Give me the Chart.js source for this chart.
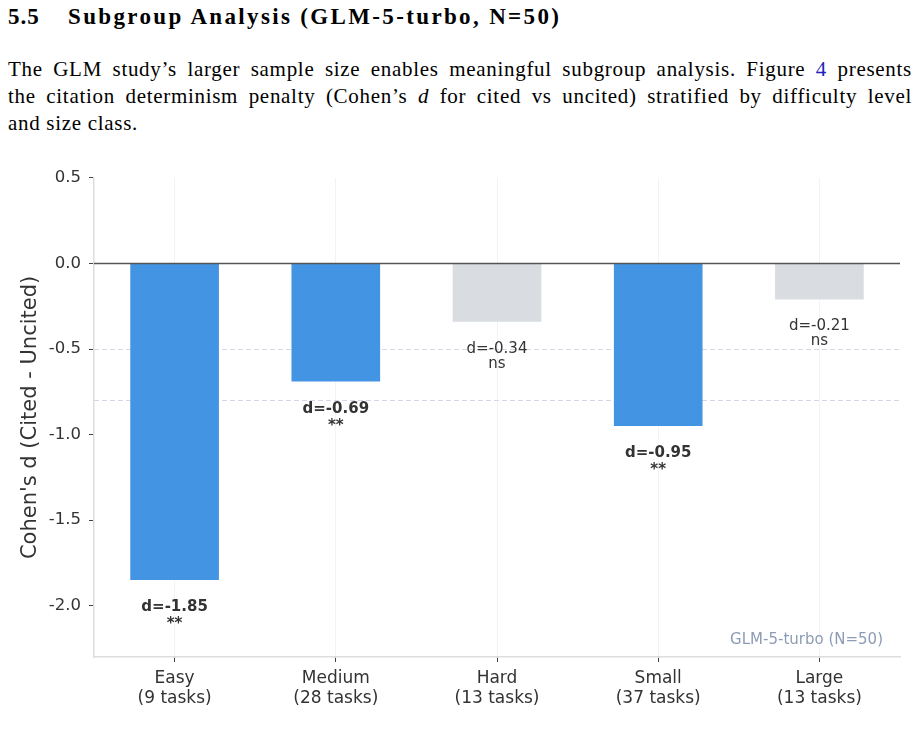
<!DOCTYPE html>
<html><head><meta charset="utf-8">
<script src="https://cdn.jsdelivr.net/npm/chart.js@4.4.1/dist/chart.umd.min.js"></script>
<style>
html,body{margin:0;padding:0;background:#fff;width:918px;height:742px;overflow:hidden;}
#doc{position:absolute;left:8px;top:0;width:904px;font-family:"Liberation Serif","Times New Roman",serif;color:#000;}
#doc h2{position:absolute;top:4px;left:0;margin:0;font-size:23px;font-weight:bold;white-space:nowrap;letter-spacing:2.35px;}
#doc h2 .num{display:inline-block;width:60px;letter-spacing:1px;}
#doc .ln{position:absolute;left:0;width:904px;font-size:21px;line-height:27px;height:27px;letter-spacing:0.7px;text-align:justify;text-align-last:justify;}
#doc .ln.last{text-align-last:left;}
#doc a{color:#2222bb;text-decoration:none;}
#wrap{position:absolute;left:0;top:160px;width:918px;height:570px;}
</style>
</head><body>
<div id="doc">
  <h2><span class="num">5.5</span>Subgroup Analysis (GLM-5-turbo, N=50)</h2>
  <div class="ln" style="top:56px">The GLM study’s larger sample size enables meaningful subgroup analysis. Figure <a>4</a> presents</div>
  <div class="ln" style="top:83px">the citation determinism penalty (Cohen’s <i>d</i> for cited vs uncited) stratified by difficulty level</div>
  <div class="ln last" style="top:110px">and size class.</div>
</div>
<div id="wrap"><canvas id="c" width="918" height="570"></canvas></div>
<script>
// ---- data ----
const groupNames = ['Easy', 'Medium', 'Hard', 'Small', 'Large'];
const taskCounts = [9, 28, 13, 37, 13];
const cohenD = [-1.85, -0.69, -0.34, -0.95, -0.21];
const significance = ['**', '**', 'ns', '**', 'ns'];
const referenceLines = [-0.5, -0.8];
const yTicks = [0.5, 0.0, -0.5, -1.0, -1.5, -2.0];
const noteText = 'GLM-5-turbo (N=50)';

const SIG_COLOR = '#4494e4';
const NS_COLOR = '#d9dce0';
const FONT = "'DejaVu Sans', sans-serif";

const labels = groupNames.map((g, i) => [g, '(' + taskCounts[i] + ' tasks)']);
const colors = significance.map(s => s === 'ns' ? NS_COLOR : SIG_COLOR);

const refLinePlugin = {
  id: 'refLines',
  beforeDatasetsDraw(chart) {
    const {ctx, chartArea, scales} = chart;
    ctx.save();
    ctx.strokeStyle = '#d3d8e6';
    ctx.lineWidth = 1;
    ctx.setLineDash([5, 3]);
    referenceLines.forEach(v => {
      const y = Math.round(scales.y.getPixelForValue(v)) + 0.5;
      ctx.beginPath();
      ctx.moveTo(chartArea.left, y);
      ctx.lineTo(chartArea.right, y);
      ctx.stroke();
    });
    ctx.restore();
  }
};

const overlayPlugin = {
  id: 'overlay',
  afterDatasetsDraw(chart) {
    const {ctx, chartArea, scales} = chart;
    ctx.save();
    // zero line
    const y0 = scales.y.getPixelForValue(0);
    ctx.strokeStyle = '#555555';
    ctx.lineWidth = 1.5;
    ctx.beginPath();
    ctx.moveTo(chartArea.left, y0);
    ctx.lineTo(chartArea.right, y0);
    ctx.stroke();
    // bar labels
    const meta = chart.getDatasetMeta(0);
    ctx.textAlign = 'center';
    ctx.textBaseline = 'alphabetic';
    ctx.fillStyle = '#333333';
    meta.data.forEach((bar, i) => {
      const bold = significance[i] !== 'ns';
      ctx.font = (bold ? 'bold ' : '') + '15px ' + FONT;
      const yEnd = bar.y;
      ctx.fillText('d=' + cohenD[i].toFixed(2), bar.x, yEnd + 31);
      ctx.fillText(significance[i], bar.x, yEnd + (bold ? 48 : 46));
    });
    // note
    ctx.font = '15px ' + FONT;
    ctx.fillStyle = '#8c9cb4';
    ctx.textAlign = 'right';
    ctx.fillText(noteText, chartArea.right - 17, chartArea.bottom - 13);
    ctx.restore();
  }
};

new Chart(document.getElementById('c'), {
  type: 'bar',
  data: {
    labels: labels,
    datasets: [{
      data: cohenD,
      backgroundColor: colors,
      borderWidth: 0,
      barPercentage: 0.55,
      categoryPercentage: 1.0
    }]
  },
  options: {
    responsive: false,
    animation: false,
    devicePixelRatio: 1,
    layout: {padding: {top: 12, right: 18, left: 0, bottom: 0}},
    plugins: {legend: {display: false}, tooltip: {enabled: false}},
    scales: {
      x: {
        grid: {offset: false, color: '#f3f3f6', lineWidth: 1, tickColor: '#444', tickLength: 5, drawTicks: true},
        border: {color: '#dddddd', width: 1.5},
        ticks: {color: '#333', font: {family: FONT, size: 17, lineHeight: 1.2}, padding: 6, maxRotation: 0},
        afterFit(s) { s.height = 73; }
      },
      y: {
        min: -2.3, max: 0.5,
        grid: {drawOnChartArea: false, tickColor: '#444', tickLength: 5},
        border: {color: '#dddddd', width: 1.5},
        afterBuildTicks(s) { s.ticks = yTicks.map(v => ({value: v})); },
        ticks: {color: '#333', font: {family: FONT, size: 16.5}, padding: 8, callback: v => v.toFixed(1)},
        title: {display: true, text: "Cohen's d (Cited - Uncited)", color: '#333', font: {family: FONT, size: 21}, padding: {top: 18, bottom: 4}},
        afterFit(s) { s.width = 94; }
      }
    }
  },
  plugins: [refLinePlugin, overlayPlugin]
});
</script>
</body></html>
